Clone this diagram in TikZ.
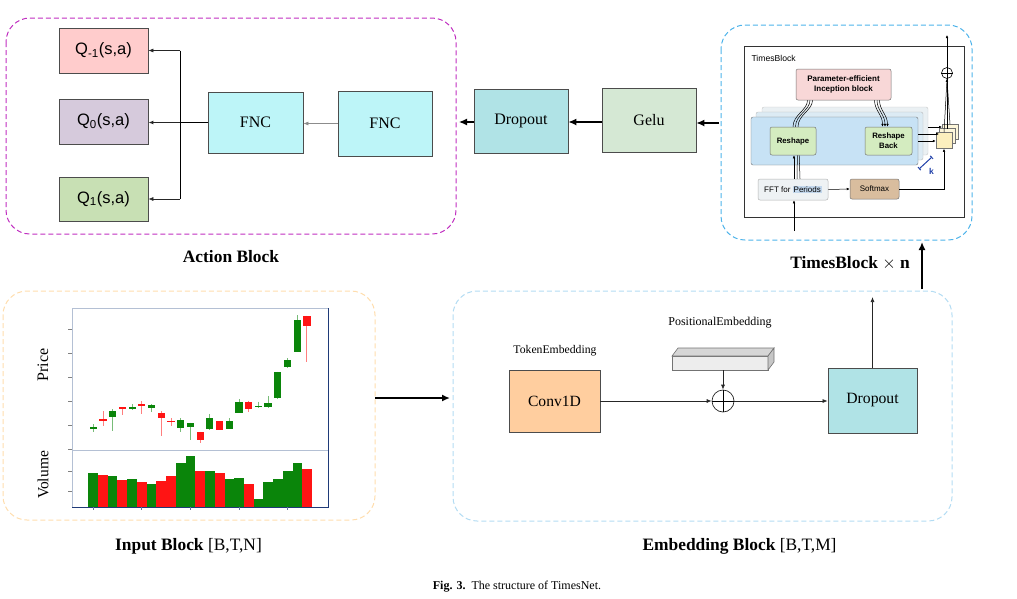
\documentclass[tikz,border=0pt]{standalone}
\usepackage{fontspec}
\setmainfont{Liberation Serif}
\setsansfont{Liberation Sans}
\usetikzlibrary{arrows.meta}

\definecolor{qred}{HTML}{FFCCCC}
\definecolor{qpurple}{HTML}{D6CADC}
\definecolor{qgreen}{HTML}{C8E0B4}
\definecolor{fnccol}{HTML}{BDF5F8}
\definecolor{dropcol}{HTML}{B0E3E6}
\definecolor{gelucol}{HTML}{D5E8D4}
\definecolor{convcol}{HTML}{FFCE9F}
\definecolor{actline}{HTML}{C02EC0}
\definecolor{tbline}{HTML}{4DB3EA}
\definecolor{embline}{HTML}{B3DCF3}
\definecolor{inline}{HTML}{FFDDAD}
\definecolor{candleg}{HTML}{0A850A}
\definecolor{candler}{HTML}{FF1414}
\definecolor{axlight}{HTML}{B4C0D4}
\definecolor{axdark}{HTML}{1F3A78}
\definecolor{incepcol}{HTML}{F8D7D7}
\definecolor{layfront}{HTML}{C7E2F5}
\definecolor{laymid}{HTML}{DCEBF4}
\definecolor{layback}{HTML}{EAF0F3}
\definecolor{reshcol}{HTML}{D4ECC0}
\definecolor{fftcol}{HTML}{EEF2F4}
\definecolor{perblue}{HTML}{C2D7EC}
\definecolor{softcol}{HTML}{D9BD9E}
\definecolor{sqfront}{HTML}{FCEFBE}
\definecolor{sqback}{HTML}{FDF6DA}
\definecolor{kblue}{HTML}{1F3FA8}

\newcommand{\fsz}[1]{\fontsize{#1}{#1}\selectfont}

\begin{document}
\begin{tikzpicture}[x=1pt, y=-1pt,
    box/.style={draw=black!70, line width=0.8pt, inner sep=0pt, font=\fsz{16}},
    qbox/.style={box, font=\sffamily\fsz{16.5}},
    tbbox/.style={draw=black!55, line width=0.5pt, rounded corners=2pt, inner sep=0pt, font=\sffamily\bfseries\fsz{7.8}},
    arr/.style={-{Latex[length=5pt,width=4pt]}, line width=0.7pt, black!85},
    bigarr/.style={-{Latex[length=8pt,width=7pt]}, line width=1.6pt},
    tinyarr/.style={-{Latex[length=3pt,width=2.6pt]}, line width=0.5pt},
    frame/.style={dashed, dash pattern=on 5pt off 3pt, line width=1pt, rounded corners=24pt},
    captext/.style={font=\fsz{17.4}}
  ]
    \useasboundingbox (0,0) rectangle (1017,598);

    % Action block
    \draw[frame, actline] (6,18) rectangle (456,234);
    \node[qbox, fill=qred, minimum width=89pt, minimum height=45pt] (qm1) at (103.5,50.5) {Q\textsubscript{-1}(s,a)};
    \node[qbox, fill=qpurple, minimum width=89pt, minimum height=45pt] (q0) at (103.5,121.5) {Q\textsubscript{0}(s,a)};
    \node[qbox, fill=qgreen, minimum width=89pt, minimum height=44pt] (q1) at (103.5,199) {Q\textsubscript{1}(s,a)};
    \node[box, fill=fnccol, minimum width=95pt, minimum height=61pt] (fnc1) at (255.5,122.5) {FNC};
    \node[box, fill=fnccol, minimum width=94pt, minimum height=65pt] (fnc2) at (385,123.5) {FNC};

    \coordinate (split) at (180,122.5);
    \draw[-{Latex[length=5pt,width=4pt]}, black!45, line width=0.7pt] (fnc2.west) -- (fnc1.east |- fnc2.west);
    \draw[line width=1.8pt] (fnc1.west) -- (split);
    \draw[line width=0.6pt] (split |- qm1) -- (split |- q1);
    \draw[arr, line width=0.6pt] (split |- qm1) -- (qm1.east);
    \draw[arr, line width=1.1pt] (split) -- (q0.east |- split);
    \draw[arr, line width=0.6pt] (split |- q1) -- (q1.east);
    \node[captext, font=\bfseries\fsz{17.4}] (actname) at (231,257) {Action Block};

    % Dropout and Gelu
    \node[box, fill=dropcol, minimum width=94pt, minimum height=64pt] (drop1) at (521,121) {Dropout};
    \node[box, fill=gelucol, minimum width=94pt, minimum height=64pt] (gelu) at (649,120) {Gelu};
    \coordinate (actin) at (459,122);
    \coordinate (tbout) at (719,123);
    \draw[bigarr, line width=1.3pt] (gelu.west |- actin) -- (drop1.east |- actin);
    \draw[bigarr, line width=1.3pt] (drop1.west |- actin) -- (actin);
    \draw[bigarr, line width=1.3pt] (tbout) -- (gelu.east |- tbout);

    % TimesBlock
    \draw[frame, tbline] (721,25) rectangle (972,240);
    \draw[black!80, line width=0.8pt] (744,46) rectangle (964,217);
    \node[anchor=west, font=\sffamily\fsz{8.6}] (tbtitle) at (748,58) {TimesBlock};
    \filldraw[fill=layback, draw=gray!45, rounded corners=2pt] (762,107) rectangle (928,155);
    \filldraw[fill=laymid, draw=gray!55, rounded corners=2pt] (756,112) rectangle (923,160);
    \filldraw[fill=layfront, draw=black!55, rounded corners=2pt] (751,117) rectangle (918,165);
    \node[tbbox, fill=incepcol, minimum width=95pt, minimum height=31pt, align=center, font=\sffamily\bfseries\fsz{8}] (incep) at (843.5,84.5) {Parameter-efficient\\[2pt]Inception block};
    \node[tbbox, fill=reshcol, minimum width=46pt, minimum height=28pt] (resh) at (793,141) {Reshape};
    \node[tbbox, fill=reshcol, minimum width=47pt, minimum height=28pt, align=center] (reshb) at (888.5,141) {Reshape\\[2pt]Back};
    \node[tbbox, fill=fftcol, draw=black!30, minimum width=70pt, minimum height=21pt, font=\sffamily\fsz{8}] (fft) at (793,189.5) {FFT for \setlength{\fboxsep}{1pt}\colorbox{perblue}{Periods}};
    \node[tbbox, fill=softcol, minimum width=49pt, minimum height=20pt, font=\sffamily\fsz{8}] (soft) at (874.5,189) {Softmax};
    \filldraw[fill=sqback, draw=black!55, line width=0.5pt] (942,124) rectangle (958,139);
    \filldraw[fill=sqback, draw=black!55, line width=0.5pt] (939,128.5) rectangle (955,143.5);
    \node[draw=black!55, fill=sqfront, line width=0.5pt, minimum size=16pt, inner sep=0pt] (agg) at (944,140.5) {};
    \node[circle, draw=black, line width=0.6pt, minimum size=11pt, inner sep=0pt] (plus) at (947,73) {};
    \draw[line width=0.6pt] (plus.north) -- (plus.south) (plus.west) -- (plus.east);

    \coordinate (tbin) at (794,231);
    \draw[tinyarr] (tbin) -- (fft.south -| tbin);
    \draw[tinyarr] ([xshift=1pt]fft.north) -- ([xshift=1pt]resh.south);
    \foreach \d in {4,7}
        \draw[line width=0.5pt] ([xshift=\d pt]fft.north) -- ([xshift=\d*0.6 pt+2pt]resh.south);
    \foreach \d in {0,2.5,5}
        \draw[line width=0.5pt] ([xshift=\d pt]resh.north) .. controls +(0,-12) and +(0,10) .. ([xshift=-36+\d pt]incep.south);
    \foreach \d in {0,2.5,5}
        \draw[tinyarr] ([xshift=31+\d pt]incep.south) .. controls +(0,10) and +(0,-12) .. ([xshift=-6+\d pt]reshb.north);
    \draw[tinyarr] (fft.east) -- (soft.west);
    \draw[tinyarr] (soft.east) -| (agg.south);
    \draw[tinyarr] (918,141) -- (agg.west |- 0,141);
    \draw[tinyarr] (918,134) -- (939,134);
    \draw[tinyarr] (928,127) -- (942,127);
    \draw[tinyarr] (agg.north) -- (plus.south);
    \draw[line width=0.5pt] (947,128.5) -- (plus.south);
    \draw[line width=0.5pt] (950,124) -- (plus.south);
    \draw[tinyarr] (plus.north) -- (947,35);
    \draw[kblue, line width=1pt, {Bar[width=4pt]}-{Bar[width=4pt]}] (919,169) -- (932,157);
    \node[kblue, font=\sffamily\bfseries\fsz{8.5}] (klab) at (931.5,171) {k};
    \node[captext] (tbname) at (850,263) {\textbf{TimesBlock} $\times$ \textbf{n}};

    % Input block
    \draw[frame, inline] (3,291) rectangle (375,520);
    \draw[axlight, line width=0.7pt] (72,507) -- (72,308) -- (328,308);
    \draw[axlight, line width=0.7pt] (72,450) -- (328,450);
    \draw[axdark, line width=0.7pt] (328,308) -- (328,507) -- (72,507);
    \foreach \y in {329.3,353,377,401,425,449,471,491}
        \draw[gray, line width=0.6pt] (68,\y) -- (72,\y);
    \foreach \x in {93.3,141.7,190,239.3,287.3}
        \draw[axdark!70, line width=0.6pt] (\x,507) -- (\x,510);
    % candles: index/colour/body top/body bottom/wick top/wick bottom
    \foreach \i/\c/\bt/\bb/\wt/\wb in {
        1/candleg/427/429.3/424.3/432.3, 2/candler/419/421/411/425.7,
        3/candleg/411/417.3/409.3/430.7, 4/candler/407/408.7/407/415,
        5/candleg/407.3/409/404.3/410.3, 6/candler/404/406.3/401/414.3,
        7/candleg/405/407.7/404/411.7, 8/candler/413/417.7/411/435.7,
        9/candler/420.7/422.3/418.3/425.7, 10/candleg/420.3/428.3/418.3/431.7,
        11/candleg/423.3/426.7/422.7/440, 12/candler/432.3/440.3/431.7/443.3,
        13/candleg/417.7/429.3/414/430, 14/candler/421/430/421/430,
        15/candleg/420.7/429/418.3/429.3, 16/candleg/402.3/412.7/399/413,
        17/candler/401.7/409.3/400.7/411.7, 18/candleg/405.7/407.3/401.7/408.3,
        19/candleg/403/407.3/396/407.7, 20/candleg/372.3/398.3/371.7/399,
        21/candleg/360.3/367/358.3/368.3, 22/candleg/320.3/351.7/315/352.3,
        23/candler/316.3/325.7/315.7/362.3} {
        \pgfmathsetmacro\cx{93.3+(\i-1)*9.71}
        \draw[\c!55!white, line width=0.9pt] (\cx,\wt) -- (\cx,\wb);
        \fill[\c] (\cx-3.6,\bt) rectangle (\cx+3.6,\bb);
    }
    % volume bars
    \foreach \i/\c/\t in {1/candleg/472.7, 2/candler/475, 3/candleg/476.3, 4/candler/480,
        5/candleg/478.7, 6/candler/482, 7/candleg/484.3, 8/candler/480.7, 9/candler/475.7,
        10/candleg/462.7, 11/candleg/456, 12/candler/471.3, 13/candleg/471.3, 14/candler/472.7,
        15/candleg/479.3, 16/candleg/478, 17/candler/484, 18/candleg/499, 19/candleg/481.7,
        20/candleg/479, 21/candleg/471, 22/candleg/463, 23/candler/469.3} {
        \fill[\c] ({88.3+(\i-1)*9.73},\t) rectangle ({88.3+\i*9.73},506.5);
    }
    \node[rotate=90, font=\fsz{16}] (pricelab) at (43,365) {Price};
    \node[rotate=90, font=\fsz{15.5}] (vollab) at (43,475) {Volume};
    \node[captext] (inname) at (188.5,546) {\textbf{Input Block} [B,T,N]};

    % Embedding block
    \draw[frame, embline] (453,291) rectangle (952,521);
    \node[box, fill=convcol, minimum width=91pt, minimum height=62pt, font=\fsz{15.6}] (conv) at (554.5,401) {Conv1D};
    \node[box, fill=dropcol, minimum width=89pt, minimum height=65pt, font=\fsz{15.7}] (drop2) at (872.5,400.5) {Dropout};
    \node[font=\fsz{11.7}] (tokname) at (555,351) {TokenEmbedding};
    \node[font=\fsz{12}] (posname) at (720,323) {PositionalEmbedding};
    \filldraw[fill=gray!14, draw=black!55, line width=0.6pt] (672,356) rectangle (768,370);
    \filldraw[fill=gray!32, draw=black!55, line width=0.6pt] (672,356) -- (678,348) -- (774,348) -- (768,356) -- cycle;
    \filldraw[fill=gray!45, draw=black!55, line width=0.6pt] (768,356) -- (774,348) -- (774,362) -- (768,370) -- cycle;
    \coordinate (posemb) at (723,370);
    \node[circle, draw=black!85, line width=0.7pt, minimum size=22pt, inner sep=0pt] (add) at (723,401) {};
    \draw[line width=0.7pt] (add.north) -- (add.south) (add.west) -- (add.east);
    \coordinate (embout) at (872.5,297);
    \draw[arr] (conv.east |- add.west) -- (add.west);
    \draw[arr] (add.east) -- (drop2.west |- add.east);
    \draw[arr] (posemb) -- (add.north);
    \draw[arr] (drop2.north) -- (embout);
    \node[captext] (embname) at (739.5,546) {\textbf{Embedding Block} [B,T,M]};

    % Connections between blocks
    \coordinate (chartout) at (375,398);
    \coordinate (embin) at (450,398);
    \draw[bigarr] (chartout) -- (embin);
    \coordinate (stackin) at (922,289);
    \coordinate (stacktop) at (922,242);
    \draw[bigarr] (stackin) -- (stacktop);

    % Caption
    \node[font=\fsz{12}] (figcap) at (517,587) {\textbf{Fig. 3.}\ \ The structure of TimesNet.};
\end{tikzpicture}
\end{document}
